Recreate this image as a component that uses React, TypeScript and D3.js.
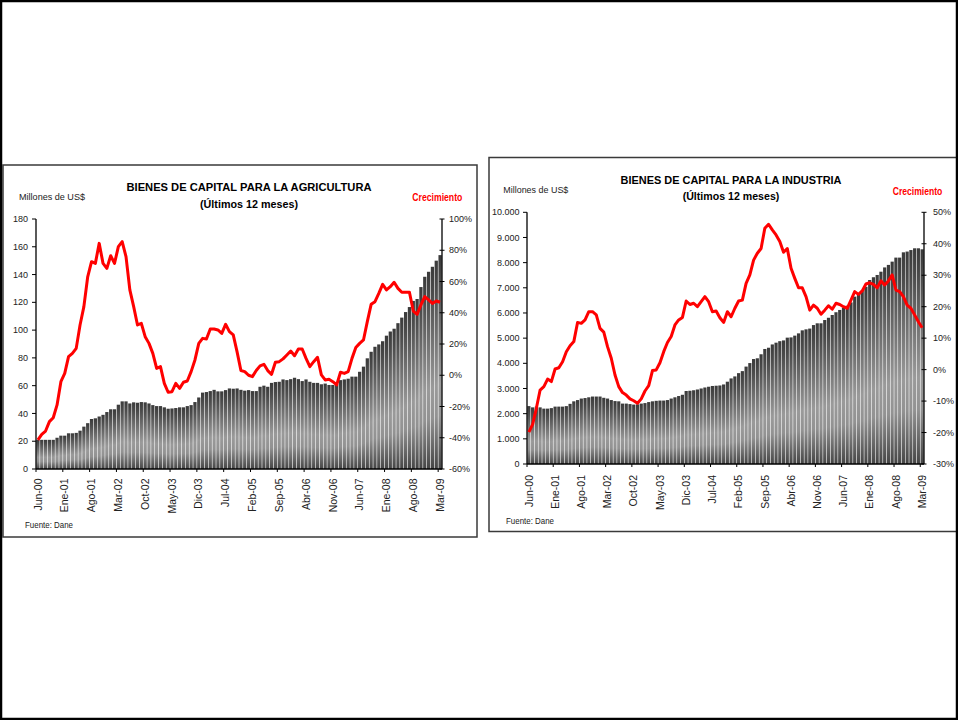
import React from "react";
import * as d3 from "d3";

const MONTHS = ["Ene", "Feb", "Mar", "Abr", "May", "Jun", "Jul", "Ago", "Sep", "Oct", "Nov", "Dic"];
const START_MONTH = 5; // Jun-00
const N_MONTHS = 106;
const categories: string[] = Array.from({ length: N_MONTHS }, (_, i) => {
  const m = (START_MONTH + i) % 12;
  const y = Math.floor((START_MONTH + i) / 12);
  return `${MONTHS[m]}-${String(y).padStart(2, "0")}`;
});
const TICK_EVERY = 7;

// Agricultura: millones de US$ (últimos 12 meses)
const agriValues = [
  21, 21, 21, 21, 21, 22.5, 24, 24, 25.7, 25.7, 26, 27.6, 30.5, 33, 36, 36.5, 37.8, 39, 41, 43,
  43, 46.3, 48.7, 48.7, 47.2, 48, 47.7, 48.2, 48, 47.2, 46, 45.3, 45.3, 44.4, 43.4, 43.6, 43.9, 44.4, 44.4, 45.3,
  46, 48.2, 51.5, 55, 55.4, 56.1, 57, 55.9, 55.9, 56.8, 58, 57.8, 58, 57, 56.4, 56.8, 56.1, 56.1, 59.2, 60,
  59.2, 62, 62.6, 62.8, 64.5, 64, 64.7, 65.7, 64.7, 63.3, 64.5, 62.8, 62, 62, 61, 61.5, 60.5, 60.5, 61, 64,
  64.5, 65, 66.5, 66.5, 70, 73.7, 79.7, 84.4, 88, 89.7, 92, 96, 99, 101, 105, 109, 113, 116.6, 121, 122.4,
  131, 138.4, 142, 145.6, 150, 154,
];
// Agricultura: crecimiento (%)
const agriGrowth = [
  -41.4, -37.8, -35.7, -29.7, -27.2, -19, -4.1, 1.2, 11.9, 14, 17.2, 32.2, 43.9, 63, 72.7, 71.6, 84.4, 71.6, 68.4, 76.5,
  71.6, 82.3, 85.5, 75.9, 54.6, 43.9, 32.2, 33.2, 24.7, 20.4, 14, 4.4, 5.5, -5.2, -10.9, -10.5, -5.2, -8.4, -4.5, -3.7,
  2.3, 9.8, 20.4, 23.6, 23.2, 29.6, 29.6, 29, 26.8, 32.6, 27.9, 25.8, 15, 3, 2.3, 0, -0.9, 3, 6, 7,
  3, 0.6, 8.3, 8.7, 10.5, 13, 15.5, 12.5, 16.8, 16.8, 10.8, 5.5, 8.7, 11.5, 0.2, -3, -2.6, -4.1, -6.2, 1.9,
  1.2, 2.3, 10.8, 17.7, 20.4, 22.6, 34.3, 45.4, 47.1, 52.4, 58.2, 54.6, 56.7, 59.5, 55.6, 53.1, 53.1, 53.1, 41.1, 39,
  45, 50.3, 48.2, 46, 47.5, 46.7,
];

// Industria: millones de US$ (últimos 12 meses)
const induValues = [
  2300, 2250, 2280, 2250, 2200, 2200, 2220, 2280, 2280, 2280, 2300, 2390, 2490, 2540, 2600, 2620, 2650, 2680, 2680, 2680,
  2630, 2600, 2540, 2500, 2490, 2400, 2400, 2380, 2360, 2370, 2400, 2420, 2460, 2490, 2510, 2520, 2520, 2540, 2600, 2650,
  2700, 2750, 2900, 2910, 2930, 2960, 3000, 3040, 3070, 3100, 3110, 3120, 3160, 3270, 3400, 3480, 3610, 3690, 3870, 4010,
  4170, 4200, 4360, 4570, 4620, 4750, 4820, 4880, 4910, 5020, 5030, 5100, 5190, 5310, 5350, 5380, 5520, 5590, 5590, 5720,
  5810, 5920, 6030, 6120, 6210, 6290, 6420, 6650, 6740, 6870, 7040, 7310, 7420, 7510, 7640, 7810, 7910, 8040, 8200, 8200,
  8410, 8440, 8500, 8570, 8570, 8530,
];
// Industria: crecimiento (%)
const induGrowth = [
  -19.9, -17.4, -12.3, -6.5, -5.4, -3, -3.8, 0.2, 0.6, 2.5, 5.7, 7.6, 8.9, 15, 14.7, 15.8, 18.4, 18.4, 17.4, 13.1,
  11.9, 7.3, 3.6, -1.7, -5.4, -7.3, -8.1, -9.3, -9.9, -10.7, -9.3, -6.8, -5.1, -0.3, -0.1, 2.2, 5.7, 8.6, 10.5, 14.2,
  15.8, 16.6, 21.8, 20.7, 21.1, 20, 21.6, 23.2, 21.6, 18.4, 18.6, 16.5, 15, 18.4, 16.8, 19.5, 21.8, 22.1, 27.4, 30.1,
  34.8, 37, 38.5, 44.9, 46.2, 44.4, 42.8, 40.7, 37.3, 38.5, 32.2, 29, 26, 26, 23.2, 18.9, 20.5, 19.5, 17.6, 18.9,
  20.3, 19.2, 21.1, 20.7, 20, 19.5, 22.1, 24.8, 23.9, 25, 27.2, 27.6, 27.1, 26, 28.2, 26.9, 28.2, 30.1, 25.3, 24.8,
  23.2, 20.5, 19.5, 17.4, 15.2, 13.3,
];

const agriLeftTicks = [0, 20, 40, 60, 80, 100, 120, 140, 160, 180];
const agriRightTicks = [-60, -40, -20, 0, 20, 40, 60, 80, 100];
const induLeftTicks = [0, 1000, 2000, 3000, 4000, 5000, 6000, 7000, 8000, 9000, 10000];
const induRightTicks = [-30, -20, -10, 0, 10, 20, 30, 40, 50];

const FONT = "'Liberation Sans', Arial, Helvetica, sans-serif";
const esLocale = d3.formatLocale({ decimal: ",", thousands: ".", grouping: [3], currency: ["$", ""] });
const fmtThousands = esLocale.format(",");
const fmtPlain = d3.format("d");
const fmtPct = (d: number) => `${d}%`;

type Cfg = {
  id: string;
  panel: { x: number; y: number; w: number; h: number };
  left: number; right: number; top: number; bottom: number;
  values: number[]; growth: number[];
  leftTicks: number[]; rightTicks: number[];
  leftFmt: (d: number) => string;
  title: string;
  titleX: number; titleY: number; titleLen: number; subY: number; subLen: number;
  unitX: number; unitY: number; unitLen: number;
  crecX: number; crecY: number; crecLen: number;
  leftLabelX: number; rightLabelX: number;
  xLabelTop: number;
  srcX: number; srcY: number;
};

function Chart({ c }: { c: Cfg }) {
  const x = d3.scaleBand<string>().domain(categories).range([c.left, c.right]).paddingInner(0.15).paddingOuter(0.075);
  const step = x.step();
  const bw = x.bandwidth();
  const yL = d3.scaleLinear().domain([c.leftTicks[0], c.leftTicks[c.leftTicks.length - 1]]).range([c.bottom, c.top]);
  const yR = d3.scaleLinear().domain([c.rightTicks[0], c.rightTicks[c.rightTicks.length - 1]]).range([c.bottom, c.top]);
  const line = d3.line<number>()
    .x((_, i) => (x(categories[i]) as number) + bw / 2)
    .y((d) => yR(d))
    .curve(d3.curveLinear);
  const tickCats = categories.filter((_, i) => i % TICK_EVERY === 0);
  const gid = `grad-${c.id}`;
  return (
    <g>
      <defs>
        <linearGradient id={gid} x1="0" y1="0" x2="0" y2="1">
          <stop offset="0" stopColor="#3a3a3a" />
          <stop offset="0.12" stopColor="#4a4a4a" />
          <stop offset="0.6" stopColor="#9a9a9a" />
          <stop offset="0.75" stopColor="#929292" />
          <stop offset="1" stopColor="#454545" />
        </linearGradient>
      </defs>
      <rect x={c.panel.x} y={c.panel.y} width={c.panel.w} height={c.panel.h} fill="#fff" stroke="#3a3a3a" strokeWidth={1.5} />
      <text x={c.unitX} y={c.unitY} fontSize={9.5} fill="#222" fontFamily={FONT} textLength={c.unitLen} lengthAdjust="spacingAndGlyphs">Millones de US$</text>
      <text x={c.titleX} y={c.titleY} fontSize={11.5} fontWeight="bold" textAnchor="middle" fill="#000" fontFamily={FONT} textLength={c.titleLen} lengthAdjust="spacingAndGlyphs">{c.title}</text>
      <text x={c.titleX} y={c.subY} fontSize={11.5} fontWeight="bold" textAnchor="middle" fill="#000" fontFamily={FONT} textLength={c.subLen} lengthAdjust="spacingAndGlyphs">(Últimos 12 meses)</text>
      <text x={c.crecX} y={c.crecY} fontSize={10} fontWeight="bold" fill="#ff0000" fontFamily={FONT} textLength={c.crecLen} lengthAdjust="spacingAndGlyphs">Crecimiento</text>

      {c.values.map((v, i) => (
        <rect key={i} x={x(categories[i]) as number} y={yL(v)} width={bw} height={c.bottom - yL(v)} fill={`url(#${gid})`} />
      ))}

      {/* left axis */}
      <line x1={c.left} x2={c.left} y1={c.top} y2={c.bottom} stroke="#000" strokeWidth={1.3} />
      {c.leftTicks.map((t) => (
        <g key={t}>
          <line x1={c.left - 4} x2={c.left} y1={yL(t)} y2={yL(t)} stroke="#000" strokeWidth={1} />
          <text x={c.leftLabelX} y={yL(t)} dy="0.35em" textAnchor="end" fontSize={9} fill="#222" fontFamily={FONT}>{c.leftFmt(t)}</text>
        </g>
      ))}
      {/* right axis */}
      <line x1={c.right} x2={c.right} y1={c.top} y2={c.bottom} stroke="#000" strokeWidth={1.3} />
      {c.rightTicks.map((t) => (
        <g key={t}>
          <line x1={c.right - 2.5} x2={c.right + 2.5} y1={yR(t)} y2={yR(t)} stroke="#000" strokeWidth={1} />
          <text x={c.rightLabelX} y={yR(t)} dy="0.35em" textAnchor="start" fontSize={9} fill="#222" fontFamily={FONT}>{fmtPct(t)}</text>
        </g>
      ))}
      {/* x axis */}
      <line x1={c.left} x2={c.right} y1={c.bottom} y2={c.bottom} stroke="#000" strokeWidth={1.3} />
      {tickCats.map((cat) => {
        const bx = (x(cat) as number) - step * 0.075;
        const cx = (x(cat) as number) + bw / 2;
        return (
          <g key={cat}>
            <line x1={bx} x2={bx} y1={c.bottom} y2={c.bottom + 3} stroke="#000" strokeWidth={1} />
            <text transform={`translate(${cx},${c.xLabelTop}) rotate(-90)`} dy="0.35em" textAnchor="end" fontSize={10.5} fill="#222" fontFamily={FONT}>{cat}</text>
          </g>
        );
      })}

      <path d={line(c.growth) || ""} fill="none" stroke="#ff0000" strokeWidth={3} strokeLinejoin="round" />

      <text x={c.srcX} y={c.srcY} fontSize={9} fill="#222" fontFamily={FONT} textLength={48} lengthAdjust="spacingAndGlyphs">Fuente: Dane</text>
    </g>
  );
}

const agriCfg: Cfg = {
  id: "agri",
  panel: { x: 3, y: 165, w: 474, h: 372 },
  left: 36, right: 442, top: 219, bottom: 469,
  values: agriValues, growth: agriGrowth,
  leftTicks: agriLeftTicks, rightTicks: agriRightTicks,
  leftFmt: (d) => fmtPlain(d),
  title: "BIENES DE CAPITAL PARA LA AGRICULTURA",
  titleX: 249, titleY: 191, titleLen: 245, subY: 207.5, subLen: 98,
  unitX: 19, unitY: 199.5, unitLen: 66,
  crecX: 412.3, crecY: 201, crecLen: 50,
  leftLabelX: 28, rightLabelX: 449,
  xLabelTop: 478.5,
  srcX: 25, srcY: 527.5,
};

const induCfg: Cfg = {
  id: "indu",
  panel: { x: 489, y: 157.5, w: 475, h: 374 },
  left: 527, right: 924, top: 212.3, bottom: 464,
  values: induValues, growth: induGrowth,
  leftTicks: induLeftTicks, rightTicks: induRightTicks,
  leftFmt: (d) => fmtThousands(d),
  title: "BIENES DE CAPITAL PARA LA INDUSTRIA",
  titleX: 731, titleY: 183.5, titleLen: 221, subY: 200, subLen: 96.7,
  unitX: 503.3, unitY: 192.5, unitLen: 65,
  crecX: 892.7, crecY: 195, crecLen: 49.6,
  leftLabelX: 519.5, rightLabelX: 933,
  xLabelTop: 475,
  srcX: 506, srcY: 523.5,
};

export default function App() {
  return (
    <svg width={958} height={720} viewBox="0 0 958 720" style={{ position: "absolute", left: 0, top: 0, background: "#fff" }}>
      <rect x={0} y={0} width={958} height={720} fill="#fff" />
      <Chart c={agriCfg} />
      <Chart c={induCfg} />
      <rect x={1} y={1} width={956} height={718} fill="none" stroke="#000" strokeWidth={2.5} />
    </svg>
  );
}
